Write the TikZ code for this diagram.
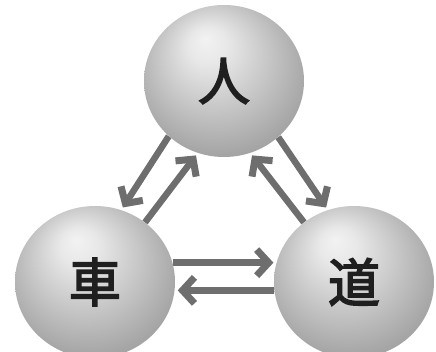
\documentclass[tikz,border=0pt]{standalone}
\usepackage{fontspec}
\newfontfamily\cjk[FakeBold=3]{Noto Sans CJK JP}
\usetikzlibrary{shapes.geometric,arrows.meta,backgrounds}
\pgfdeclareradialshading{spheregray}{\pgfpoint{-6bp}{14bp}}{%
  color(0bp)=(white!95!black);
  color(6bp)=(white!91!black);
  color(17bp)=(white!78!black);
  color(28bp)=(white!65!black);
  color(40bp)=(white!55!black)}
\tikzset{
  sphere/.style={ellipse, minimum width=160pt, minimum height=152pt, inner sep=0pt,
    shading=spheregray, text=black!88, font=\cjk\fontsize{52}{52}\selectfont},
  arr/.style={draw=black!57, line width=6.5pt,
    -{Straight Barb[length=12pt,width=26pt,line width=7pt]}, shorten >=3pt}
}
\begin{document}
\begin{tikzpicture}[x=1pt,y=-1pt]
\useasboundingbox (0,0) rectangle (436,352);
\clip (0,0) rectangle (436,352);
\node[sphere] (hito) at (224,81) {人};
\node[sphere] (kuruma) at (95,282) {車};
\node[sphere] (michi) at (354,282) {道};
\begin{pgfonlayer}{background}
\fill[white] (0,0) rectangle (436,352);
\draw[arr] (hito.225) -- (kuruma.70);
\draw[arr] (kuruma.50) -- (hito.250);
\draw[arr] (hito.314) -- (michi.110);
\draw[arr] (michi.130) -- (hito.290);
\draw[arr] (kuruma.14) -- (michi.166);
\draw[arr] (michi.186) -- (kuruma.354);
\end{pgfonlayer}
\end{tikzpicture}
\end{document}
